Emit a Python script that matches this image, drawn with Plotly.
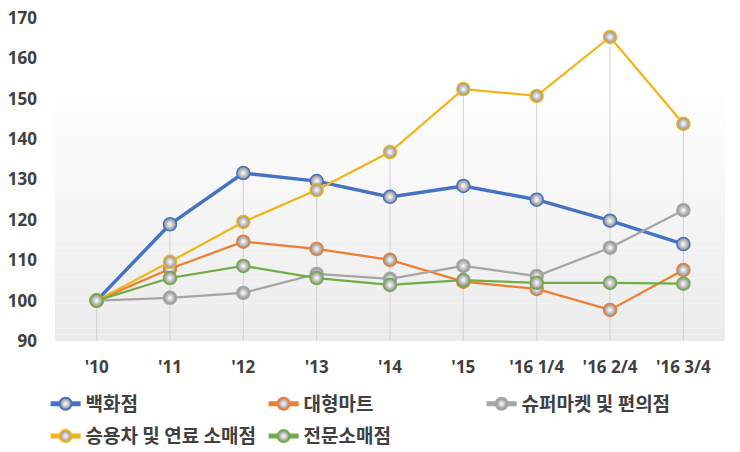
import plotly.graph_objects as go

categories = ["'10", "'11", "'12", "'13", "'14", "'15", "'16 1/4", "'16 2/4", "'16 3/4"]
dept_store = [100, 118.9, 131.6, 129.6, 125.7, 128.4, 125.0, 119.8, 114.0]
hypermart = [100, 107.9, 114.6, 112.8, 110.1, 104.7, 102.9, 97.7, 107.6]
supermarket = [100, 100.7, 101.9, 106.6, 105.4, 108.6, 106.1, 113.1, 122.4]
car_fuel = [100, 109.6, 119.5, 127.4, 136.8, 152.4, 150.7, 165.3, 143.8]
specialty = [100, 105.6, 108.6, 105.6, 103.9, 105.1, 104.4, 104.4, 104.2]
y_ticks = [90, 100, 110, 120, 130, 140, 150, 160, 170]

series = [
    ("백화점", dept_store, "#4472C4", 3.5, "legend"),
    ("대형마트", hypermart, "#ED7D31", 2.25, "legend"),
    ("슈퍼마켓 및 편의점", supermarket, "#A5A5A5", 2.25, "legend"),
    ("승용차 및 연료 소매점", car_fuel, "#F2B418", 2.25, "legend2"),
    ("전문소매점", specialty, "#70AD47", 2.25, "legend2"),
]

FONT = "Noto Sans CJK KR"
TICKFONT = "Open Sans"
fig = go.Figure()

# drop lines from the highest series value at each category down to the axis
y_min = y_ticks[0]
all_vals = [s[1] for s in series]
drop_x, drop_y = [], []
for i, c in enumerate(categories):
    top = max(v[i] for v in all_vals)
    drop_x += [c, c, None]
    drop_y += [y_min, top, None]
fig.add_trace(go.Scatter(x=drop_x, y=drop_y, mode="lines", showlegend=False,
                         hoverinfo="skip", line=dict(color="#d2d2d2", width=1)))

for name, vals, col, w, lg in series:
    fig.add_trace(go.Scatter(
        x=categories, y=vals, name=name, mode="lines+markers",
        line=dict(color=col, width=w),
        marker=dict(size=13, color="#8a8a8a",
                    gradient=dict(type="radial", color="#ffffff"),
                    line=dict(color=col, width=1.5)),
        legend=lg,
    ))

# background gradient (plot area lower part)
n = 40
top_val, bot_val = 152, 90
for i in range(n):
    y0 = bot_val + (top_val - bot_val) * i / n
    y1 = bot_val + (top_val - bot_val) * (i + 1) / n
    t = i / (n - 1)
    g = int(round(235 + (254 - 235) * t))
    fig.add_shape(type="rect", xref="paper", yref="y", x0=0, x1=1, y0=y0, y1=y1,
                  fillcolor=f"rgb({g},{g},{g})", line_width=0, layer="below")

legend_common = dict(orientation="h", xanchor="left", yanchor="top",
                     entrywidth=173, entrywidthmode="pixels", itemwidth=30,
                     itemsizing="constant",
                     font=dict(family=FONT, size=19, color="#404040", weight="bold"),
                     bgcolor="rgba(0,0,0,0)")
fig.update_layout(
    width=740, height=452,
    margin=dict(l=55, r=15, t=18, b=111, autoexpand=False),
    paper_bgcolor="white", plot_bgcolor="rgba(0,0,0,0)",
    font=dict(family=FONT, color="#404040", size=16),
    legend=dict(x=-0.014, y=-0.136, **legend_common),
    legend2=dict(x=-0.014, y=-0.236, **legend_common),
    showlegend=True,
)
fig.update_xaxes(showgrid=False, showline=False, automargin=False,
                 zeroline=False, ticks="", ticklabelstandoff=14,
                 tickfont=dict(family=TICKFONT, size=17, color="#404040", weight="bold"))
fig.update_yaxes(range=[90, 170], tickvals=y_ticks, showgrid=False, zeroline=False,
                 showline=False, ticks="", ticklabelstandoff=17, automargin=False,
                 tickfont=dict(family=TICKFONT, size=17, color="#404040", weight="bold"))

fig.write_html("out.html", config={"displayModeBar": False},
               post_script="document.body.style.margin='0';")
